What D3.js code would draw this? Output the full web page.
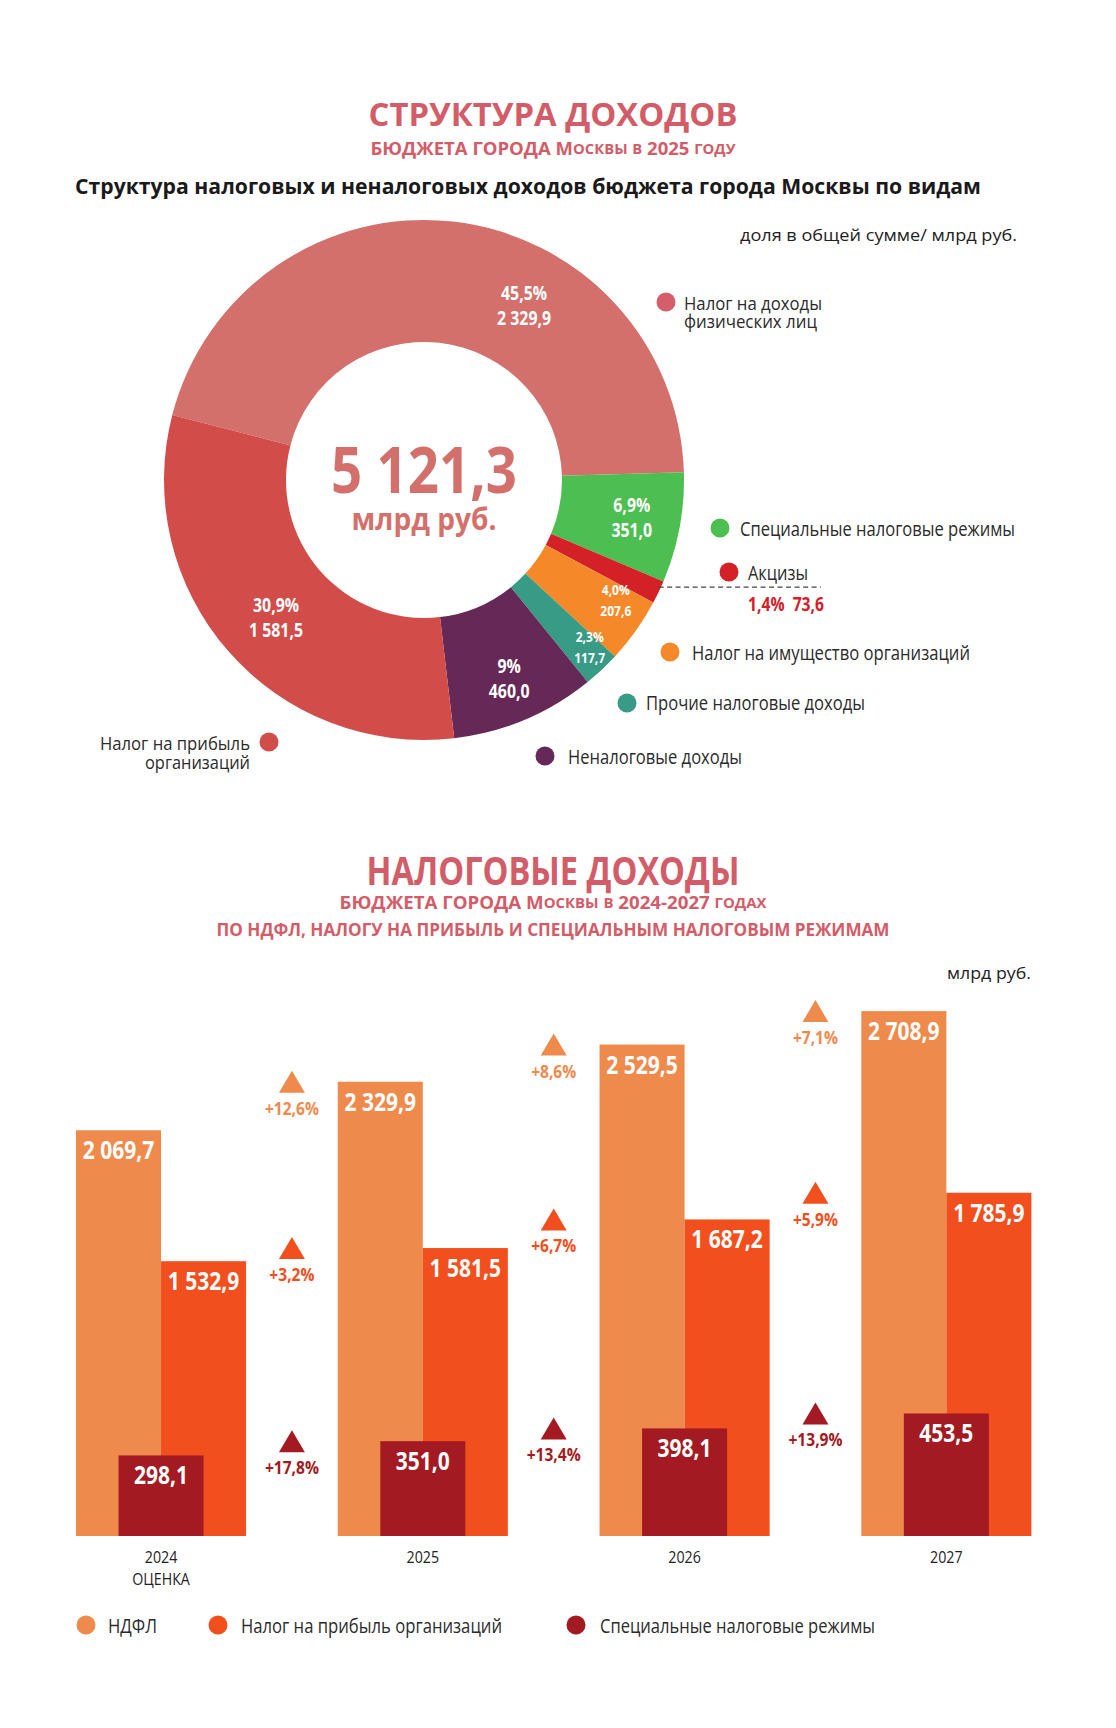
<!DOCTYPE html>
<html><head><meta charset="utf-8">
<script src="https://cdn.jsdelivr.net/npm/d3@7"></script>
<style>
html,body{margin:0;padding:0;background:#fff;}
svg text{font-family:'Open Sans','Noto Sans','DejaVu Sans Condensed',sans-serif;}
</style></head><body><svg id="c" width="1116" height="1728"></svg>
<script>
// ---------- DATA ----------
const pieLabels = ["Налог на доходы физических лиц","Специальные налоговые режимы","Акцизы","Налог на имущество организаций","Прочие налоговые доходы","Неналоговые доходы","Налог на прибыль организаций"];
const pieValues = [2329.9, 351.0, 73.6, 207.6, 117.7, 460.0, 1581.5];
const pieShares = ["45,5%","6,9%","1,4%","4,0%","2,3%","9%","30,9%"];

const years = ["2024","2025","2026","2027"];
const yearNotes = ["ОЦЕНКА","","",""];
const ndfl = [2069.7, 2329.9, 2529.5, 2708.9];
const profit = [1532.9, 1581.5, 1687.2, 1785.9];
const special = [298.1, 351.0, 398.1, 453.5];
const growthNdfl = ["+12,6%","+8,6%","+7,1%"];
const growthProfit = ["+3,2%","+6,7%","+5,9%"];
const growthSpecial = ["+17,8%","+13,4%","+13,9%"];
const barSeriesNames = ["НДФЛ","Налог на прибыль организаций","Специальные налоговые режимы"];

// ---------- STYLE ----------
const pieColors = ["#D4706C","#4DBE51","#D42027","#F5892A","#389B85","#652857","#D24C4A"];
const legendDotColors = ["#D45E6A","#4DBE51","#D42027","#F5892A","#389B85","#652857","#D24C4A"];
const cN = "#EF8A4D", cP = "#F24F1E", cS = "#A31A22";
const titleColor = "#D35C69";

const ru = d3.formatLocale({decimal:",", thousands:"\u00a0", grouping:[3], currency:["",""]});
const fmt = ru.format(",.1f");

const svg = d3.select("#c");
svg.append("rect").attr("width",1116).attr("height",1728).attr("fill","#fff");

function measure(s,size,weight){
  const t = svg.append("text").attr("x",-1000).attr("y",-1000)
    .attr("font-size",size).attr("font-weight",weight||"normal").text(s);
  const w = t.node().getComputedTextLength(); t.remove(); return w;
}
function base(g,x,y,o){
  return g.append("text").attr("x",x).attr("y",y)
    .attr("dominant-baseline","central")
    .attr("text-anchor",o.anchor||"start")
    .attr("font-size",o.size||16)
    .attr("font-weight",o.weight||"normal")
    .attr("fill",o.color||"#222");
}
function fit(t,o){
  const nat = t.node().getComputedTextLength();
  let target = null;
  if(o.w) target = o.w; else if(o.k) target = nat*o.k;
  if(target) t.attr("textLength",target).attr("lengthAdjust","spacingAndGlyphs");
}
function txt(g,x,y,s,o){
  o=o||{};
  const t = base(g,x,y,o).text(s);
  fit(t,o);
  return t;
}
// multi-line text in one element: lines [{s,y,w|k}]
function mtxt(g,x,lines,o){
  o=o||{};
  const t = base(g,x,lines[0].y,o);
  lines.forEach(L=>{
    const ts = t.append("tspan").attr("x",x).attr("y",L.y).text(L.s);
    const nat = ts.node().getComputedTextLength();
    const target = L.w ? L.w : (L.k ? nat*L.k : null);
    if(target) ts.attr("textLength",target).attr("lengthAdjust","spacingAndGlyphs");
  });
  return t;
}
// manual small caps: lowercase letters become smaller capitals
function sctxt(g,x,y,s,o){
  const t = base(g,x,y,o);
  const runs = [];
  for(const ch of s){
    const low = ch !== ch.toUpperCase();
    if(runs.length && runs[runs.length-1].low===low) runs[runs.length-1].s += ch;
    else runs.push({low:low,s:ch});
  }
  runs.forEach(r=>{
    t.append("tspan").attr("font-size",r.low?o.size*0.8:o.size).text(r.low?r.s.toUpperCase():r.s);
  });
  fit(t,o);
  return t;
}

// ---------- TITLES ----------
txt(svg,553,113,"СТРУКТУРА ДОХОДОВ",{anchor:"middle",size:33,weight:"bold",color:titleColor,w:369});
sctxt(svg,553,148,"БЮДЖЕТА ГОРОДА Москвы в 2025 году",{anchor:"middle",size:17,weight:"bold",color:titleColor,w:365});
txt(svg,528,185,"Структура налоговых и неналоговых доходов бюджета города Москвы по видам",{anchor:"middle",size:22,weight:"bold",color:"#1a1a1a",w:906});
txt(svg,1017,234,"доля в общей сумме/ млрд руб.",{anchor:"end",size:17,color:"#222",w:277});

// ---------- DONUT ----------
const cx=424, cy=480, R=260, r0=138;
const a0 = -75.5*Math.PI/180;
const pie = d3.pie().sort(null).value(d=>d).startAngle(a0).endAngle(a0+2*Math.PI);
const arcs = pie(pieValues);
const arc = d3.arc().innerRadius(r0).outerRadius(R);
const dg = svg.append("g").attr("transform",`translate(${cx},${cy})`);
dg.selectAll("path.sl").data(arcs).join("path").attr("class","sl")
  .attr("d",arc).attr("fill",(d,i)=>pieColors[i]);

const kBig = 54/measure("2\u00a0329,9",20,"bold");
const kSmall = 31/measure("207,6",15,"bold");
// label placement: angle shift (deg) and radius per slice (layout only)
const labelLayout = [[23.3,202],[-0.6,211],null,[-3.5,226],[-1.7,235],[-0.5,215],[-1.5,201]];
arcs.forEach((d,i)=>{
  const L = labelLayout[i]; if(!L) return;
  const mid = (d.startAngle+d.endAngle)/2 + L[0]*Math.PI/180;
  const x = L[1]*Math.sin(mid), y = -L[1]*Math.cos(mid);
  const small = pieValues[i] < 250;
  const sz = small?15:20, gap = small?10.5:12.5, k = small?kSmall:kBig;
  mtxt(dg,x,[{s:pieShares[i],y:y-gap,k:k},{s:fmt(pieValues[i]),y:y+gap,k:k}],
       {anchor:"middle",size:sz,weight:"bold",color:"#fff"});
});
{
  const t = base(dg,0,-12,{anchor:"middle",weight:"bold",color:"#D4706C"});
  const t1 = t.append("tspan").attr("x",0).attr("y",-12).attr("font-size",64).text(fmt(d3.sum(pieValues)));
  t1.attr("textLength",186).attr("lengthAdjust","spacingAndGlyphs");
  const t2 = t.append("tspan").attr("x",0).attr("y",38).attr("font-size",30).text("млрд руб.");
  t2.attr("textLength",145).attr("lengthAdjust","spacingAndGlyphs");
}

// excise callout
{
  const d = arcs[2];
  const mid = (d.startAngle+d.endAngle)/2;
  const ox = cx + R*Math.sin(mid), oy = cy - R*Math.cos(mid) - 5;
  svg.append("line").attr("x1",ox).attr("y1",oy).attr("x2",821).attr("y2",oy)
    .attr("stroke","#444").attr("stroke-width",1.2).attr("stroke-dasharray","5,3.5");
  txt(svg,748,603,pieShares[2]+"\u00a0\u00a0"+fmt(pieValues[2]),{size:20,weight:"bold",color:pieColors[2],w:76});
}

// donut legend
const pieLegend = [
  {dot:[666,302], tx:684, ty:[303,321], lines:["Налог на доходы","физических лиц"], w:[138,133], anchor:"start"},
  {dot:[720,528], tx:740, ty:[528], lines:[pieLabels[1]], w:[275], anchor:"start"},
  {dot:[729,572], tx:748, ty:[572], lines:[pieLabels[2]], w:[60], anchor:"start"},
  {dot:[670,652], tx:692, ty:[652], lines:[pieLabels[3]], w:[278], anchor:"start"},
  {dot:[627,703], tx:646, ty:[702], lines:[pieLabels[4]], w:[219], anchor:"start"},
  {dot:[545,756], tx:568, ty:[756], lines:[pieLabels[5]], w:[174], anchor:"start"},
  {dot:[269,742], tx:250, ty:[743,762], lines:["Налог на прибыль","организаций"], w:[150,105], anchor:"end"}
];
pieLegend.forEach((L,i)=>{
  svg.append("circle").attr("cx",L.dot[0]).attr("cy",L.dot[1]).attr("r",9.5).attr("fill",legendDotColors[i]);
  mtxt(svg,L.tx,L.lines.map((s,k)=>({s:s,y:L.ty[k],w:L.w[k]})),
       {anchor:L.anchor,size:L.lines.length>1?19:20,color:"#2b2b2b"});
});

// ---------- BAR CHART TITLES ----------
txt(svg,553,869,"НАЛОГОВЫЕ ДОХОДЫ",{anchor:"middle",size:39,weight:"bold",color:titleColor,w:373});
sctxt(svg,553,902,"БЮДЖЕТА ГОРОДА Москвы в 2024-2027 годах",{anchor:"middle",size:17,weight:"bold",color:titleColor,w:427});
txt(svg,553,929,"ПО НДФЛ, НАЛОГУ НА ПРИБЫЛЬ И СПЕЦИАЛЬНЫМ НАЛОГОВЫМ РЕЖИМАМ",{anchor:"middle",size:17,weight:"bold",color:titleColor,w:673});
txt(svg,1031,972,"млрд руб.",{anchor:"end",size:17,color:"#222",w:84});

// ---------- BARS ----------
const baseY = 1536;
const x = d3.scaleBand().domain(years).range([76,1031.4]).paddingInner(0.3503).paddingOuter(0);
const bw = x.bandwidth();
const yN = d3.scaleLinear().domain([-107,2800]).range([baseY, baseY-(2800+107)*0.1864]);
const yP = d3.scaleLinear().domain([517.4,2000]).range([baseY, baseY-(2000-517.4)*0.2706]);
const yS = d3.scaleLinear().domain([0,1000]).range([baseY, baseY-270.2]);
const bg = svg.append("g");
const series = [
  {vals:ndfl, y:yN, col:cN, off:0, growth:growthNdfl},
  {vals:profit, y:yP, col:cP, off:bw/2, growth:growthProfit},
  {vals:special, y:yS, col:cS, off:bw/4, growth:growthSpecial}
];
series.forEach(s=>{
  bg.selectAll(null).data(s.vals).join("rect")
    .attr("x",(d,i)=>x(years[i])+s.off).attr("width",bw/2)
    .attr("y",d=>s.y(d)).attr("height",d=>baseY-s.y(d)).attr("fill",s.col);
});
const kBar = 71.5/measure("2\u00a0069,7",25,"bold");
const kGrowth = 54/measure("+12,6%",18,"bold");
series.forEach(s=>{
  s.vals.forEach((d,i)=>{
    txt(bg,x(years[i])+s.off+bw/4,s.y(d)+19,fmt(d),{anchor:"middle",size:25,weight:"bold",color:"#fff",k:kBar});
  });
  // growth markers between groups
  s.growth.forEach((g,i)=>{
    const gx = (x(years[i])+bw + x(years[i+1]))/2;
    const gy = s.y(s.vals[i+1]);
    bg.append("path").attr("d",`M${gx-13},${gy+11}L${gx+13},${gy+11}L${gx},${gy-11}Z`).attr("fill",s.col);
    txt(bg,gx,gy+26,g,{anchor:"middle",size:18,weight:"bold",color:s.col,k:kGrowth});
  });
});
// x axis labels
const kYear = 32.5/measure("2024",16);
years.forEach((yv,i)=>{
  const cxg = x(yv)+bw/2;
  const lines = [{s:yv,y:1557,k:kYear}];
  if(yearNotes[i]) lines.push({s:yearNotes[i],y:1579,w:57.5});
  mtxt(svg,cxg,lines,{anchor:"middle",size:16,color:"#222"});
});
// legend
const legX = [[86,108],[218,241],[576,600]];
const legW = [49,261,275];
[cN,cP,cS].forEach((c,i)=>{
  svg.append("circle").attr("cx",legX[i][0]).attr("cy",1625).attr("r",9.5).attr("fill",c);
  txt(svg,legX[i][1],1625,barSeriesNames[i],{size:20,color:"#2b2b2b",w:legW[i]});
});
</script></body></html>
